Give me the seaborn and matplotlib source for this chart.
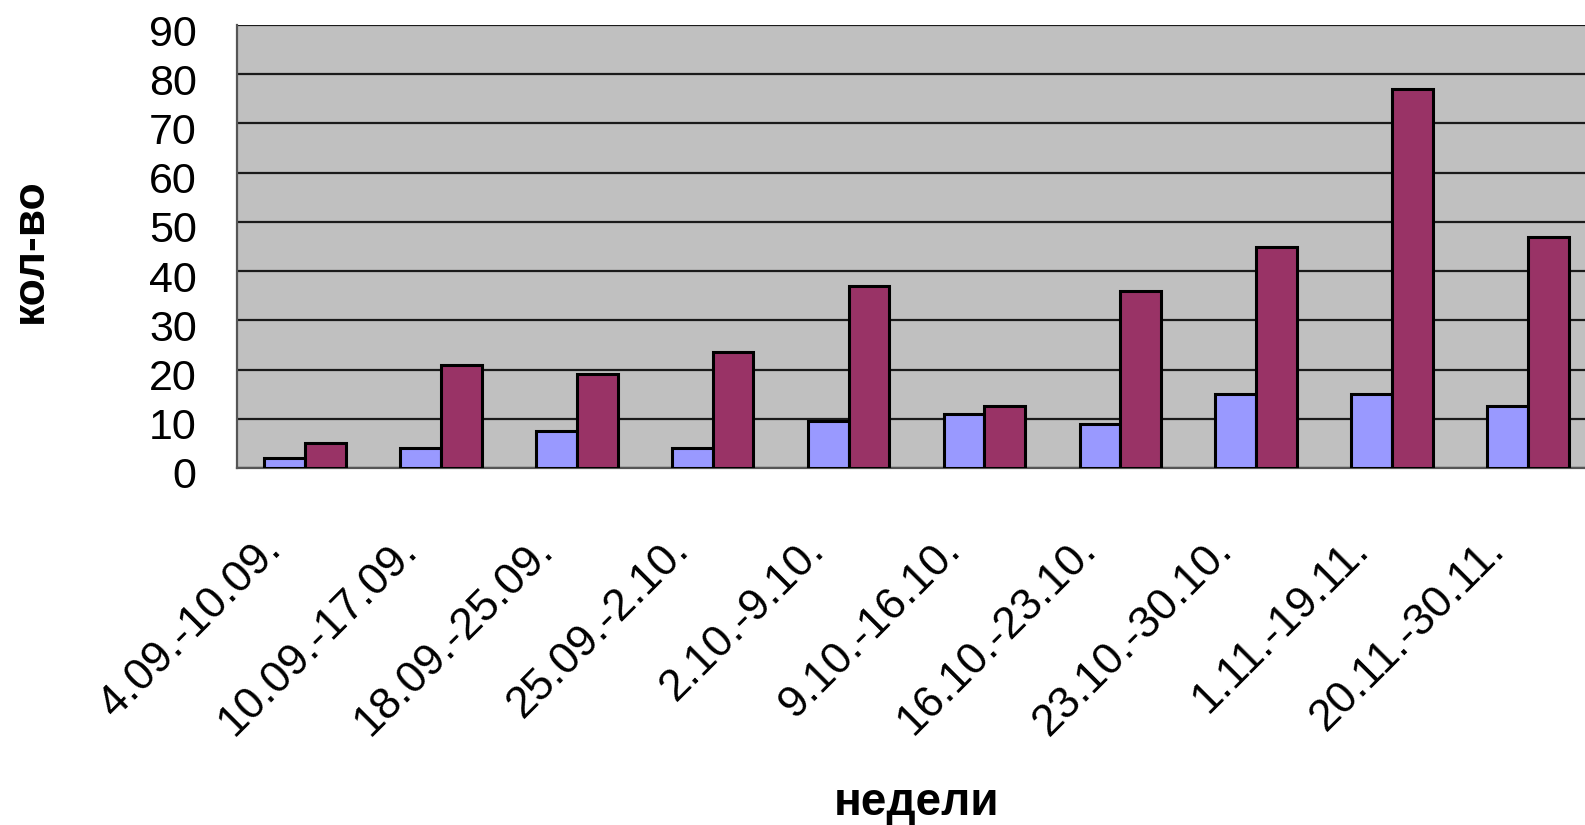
import matplotlib
matplotlib.use("Agg")
import matplotlib.pyplot as plt
import matplotlib.transforms as mtransforms
import numpy as np
import pandas as pd
import seaborn as sns

weeks = ["4.09.-10.09.", "10.09.-17.09.", "18.09.-25.09.", "25.09.-2.10.",
         "2.10.-9.10.", "9.10.-16.10.", "16.10.-23.10.", "23.10.-30.10.",
         "1.11.-19.11.", "20.11.-30.11."]
series_1 = [2, 4, 7.5, 4, 9.5, 11, 9, 15, 15, 12.5]
series_2 = [5, 21, 19, 23.5, 37, 12.5, 36, 45, 77, 47]
series_names = ["Ряд1", "Ряд2"]
y_ticks = [0, 10, 20, 30, 40, 50, 60, 70, 80, 90]

df = pd.DataFrame({
    "week": weeks * 2,
    "value": series_1 + series_2,
    "series": [series_names[0]] * len(weeks) + [series_names[1]] * len(weeks),
})

sns.set_theme(style="white")
plt.rcParams["font.family"] = ["Liberation Sans", "DejaVu Sans"]
plt.rcParams["text.color"] = "black"
plt.rcParams["axes.labelcolor"] = "black"
plt.rcParams["xtick.color"] = "black"
plt.rcParams["ytick.color"] = "black"

fig = plt.figure(figsize=(15.85, 8.25), dpi=100)
ax = fig.add_axes([237 / 1585, 1 - 468 / 825, 1359 / 1585, 443 / 825])
ax.set_facecolor("#C0C0C0")

sns.barplot(data=df, x="week", y="value", hue="series", order=weeks,
            palette=["#9999FF", "#993366"], width=0.6, saturation=1,
            edgecolor="black", linewidth=2.2, legend=False, ax=ax, zorder=3)

ax.set_ylim(0, 90)
ax.set_xlim(-0.5, len(weeks) - 0.5)
ax.set_yticks(y_ticks)
ax.yaxis.grid(True, color="#1a1a1a", linewidth=1.6, zorder=0)
ax.set_axisbelow(True)

ax.tick_params(axis="y", which="major", direction="out", length=11, width=1.4,
               color="#333333", labelsize=31, pad=18)
ax.tick_params(axis="x", which="major", length=0, labelsize=32, pad=57)
ax.set_xticks(np.arange(-0.5, len(weeks)), minor=True)
ax.tick_params(axis="x", which="minor", direction="out", length=11, width=1.4,
               color="#333333")
ax.set_xticks(range(len(weeks)))
ax.set_xticklabels(weeks, rotation=45, ha="right", va="baseline",
                   rotation_mode="anchor")
shift_x = mtransforms.ScaledTranslation(-22 / 100, -4 / 100, fig.dpi_scale_trans)
for lbl in ax.get_xticklabels():
    lbl.set_transform(lbl.get_transform() + shift_x)
shift_y = mtransforms.ScaledTranslation(0, -5 / 100, fig.dpi_scale_trans)
for lbl in ax.get_yticklabels():
    lbl.set_transform(lbl.get_transform() + shift_y)

for side in ["top", "right"]:
    ax.spines[side].set_visible(False)
for side in ["left", "bottom"]:
    ax.spines[side].set_color("#555555")
    ax.spines[side].set_linewidth(1.6)

ax.set_xlabel("недели", fontsize=33, fontweight="bold")
ax.set_ylabel("кол-во", fontsize=32, fontweight="bold")
ax.xaxis.label.set_va("baseline")
ax.yaxis.label.set_va("baseline")
ax.xaxis.set_label_coords(0.5, -0.783)
ax.yaxis.set_label_coords(-0.1435, 0.49)

fig.savefig("out.png", dpi=100)
